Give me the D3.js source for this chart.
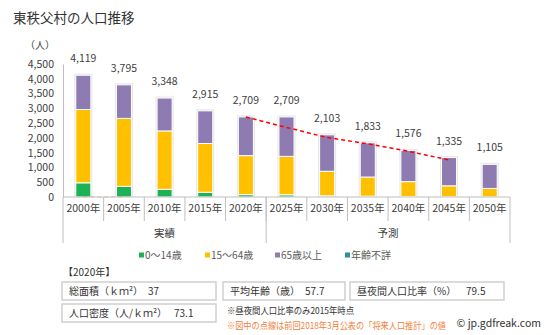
<!DOCTYPE html>
<html>
<head>
<meta charset="utf-8">
<script src="https://cdn.jsdelivr.net/npm/d3@7"></script>
<style>
  body { margin: 0; background: #fff; }
  svg { font-family: "Noto Sans CJK JP", sans-serif; }
</style>
</head>
<body>
<div id="chart"></div>
<script>
// population by age group, actual (2000-2020) and projected (2025-2050)
const years = ["2000年", "2005年", "2010年", "2015年", "2020年", "2025年", "2030年", "2035年", "2040年", "2045年", "2050年"];
const age0to14 = [480, 360, 260, 160, 80, 75, 40, 25, 15, 8, 5];
const age15to64 = [2480, 2300, 1975, 1650, 1320, 1300, 830, 650, 505, 370, 285];
const age65plus = [1159, 1135, 1113, 1105, 1309, 1334, 1233, 1158, 1056, 957, 815];
const ageUnknown = [0, 0, 0, 0, 0, 0, 0, 0, 0, 0, 0];
const totals = [4119, 3795, 3348, 2915, 2709, 2709, 2103, 1833, 1576, 1335, 1105];
// previous (2018) projection, dashed line
const prevYears = ["2020年", "2025年", "2030年", "2035年", "2040年", "2045年"];
const prevValues = [2709, 2355, 2013, 1799, 1546, 1253];
const yTicks = [0, 500, 1000, 1500, 2000, 2500, 3000, 3500, 4000, 4500];
const groups = [{ name: "実績", from: 0, to: 4 }, { name: "予測", from: 5, to: 10 }];
const seriesNames = ["0～14歳", "15～64歳", "65歳以上", "年齢不詳"];
const colors = ["#1db256", "#ffc000", "#8e7bb1", "#2e8fa3"];

const width = 548, height = 335;
const svg = d3.select("#chart").append("svg")
    .attr("width", width)
    .attr("height", height);

const left = 63, right = 510, bottom = 197;

const x = d3.scaleBand()
    .domain(years)
    .range([left, right])
    .paddingInner(0.63)
    .paddingOuter(0.315);
const step = x.step();
const bw = x.bandwidth();

const y = d3.scaleLinear()
    .domain([0, 4500])
    .range([bottom, 64]);

// title
svg.append("text")
    .attr("x", 13).attr("y", 23)
    .attr("font-size", 13.5)
    .attr("fill", "#333")
    .text("東秩父村の人口推移");

svg.append("text")
    .attr("x", 55).attr("y", 49)
    .attr("font-size", 10)
    .attr("text-anchor", "end")
    .attr("fill", "#404040")
    .text("（人）");

// y axis
const yAxis = svg.append("g")
    .attr("transform", "translate(" + left + ",0)")
    .call(d3.axisLeft(y).tickValues(yTicks).tickSize(0).tickPadding(9).tickFormat(d3.format(",")));
yAxis.select(".domain").attr("stroke", "#bfbfbf");
yAxis.selectAll("text")
    .attr("font-size", 10.5)
    .attr("fill", "#404040")
    .style("font-family", "\"Noto Sans CJK JP\", sans-serif");

// stacked bars
const rows = years.map((yr, i) => ({
    year: yr,
    a: age0to14[i], b: age15to64[i], c: age65plus[i], d: ageUnknown[i]
}));
const stack = d3.stack().keys(["a", "b", "c", "d"]);
const layers = stack(rows);

// soft grey halo behind each bar
svg.append("g").selectAll("rect")
    .data(rows)
    .enter().append("rect")
    .attr("x", d => x(d.year) - 1.5)
    .attr("width", bw + 3)
    .attr("y", (d, i) => y(layers[3][i][1]) - 1.5)
    .attr("height", (d, i) => bottom - y(layers[3][i][1]) + 1.5)
    .attr("fill", "#e6e6e6");

svg.append("g").selectAll("g")
    .data(layers)
    .enter().append("g")
    .attr("fill", (d, i) => colors[i])
    .selectAll("rect")
    .data(d => d)
    .enter().append("rect")
    .attr("x", d => x(d.data.year))
    .attr("width", bw)
    .attr("y", d => y(d[1]))
    .attr("height", d => y(d[0]) - y(d[1]))
    .attr("stroke", "#fff")
    .attr("stroke-width", d => (d[1] - d[0]) > 0 ? 1 : 0);

// total labels
svg.append("g").selectAll("text")
    .data(years)
    .enter().append("text")
    .attr("x", d => x(d) + bw / 2)
    .attr("y", (d, i) => y(totals[i]) - 13)
    .attr("text-anchor", "middle")
    .attr("font-size", 10.5)
    .attr("fill", "#404040")
    .text((d, i) => d3.format(",")(totals[i]));

// previous projection, dashed
const line = d3.line()
    .x(d => x(d[0]) + bw / 2)
    .y(d => y(d[1]));
svg.append("path")
    .datum(prevYears.map((yr, i) => [yr, prevValues[i]]))
    .attr("d", line)
    .attr("fill", "none")
    .attr("stroke", "#ff0000")
    .attr("stroke-width", 1.5)
    .attr("stroke-dasharray", "4,3");
svg.append("path")
    .datum([["2000年", 0], ["2005年", 0]])
    .attr("d", line)
    .attr("fill", "none")
    .attr("stroke", "#ff0000")
    .attr("stroke-opacity", 0.35)
    .attr("stroke-width", 1.2)
    .attr("stroke-dasharray", "4,3");

// category axis
const xAxis = svg.append("g")
    .attr("transform", "translate(0," + bottom + ")")
    .call(d3.axisBottom(x).tickSize(0).tickPadding(8));
xAxis.select(".domain").remove();
xAxis.selectAll("text")
    .attr("font-size", 10.5)
    .attr("fill", "#404040")
    .style("font-family", "\"Noto Sans CJK JP\", sans-serif");

svg.append("line")
    .attr("x1", left).attr("x2", right)
    .attr("y1", bottom).attr("y2", bottom)
    .attr("stroke", "#bfbfbf");

const bound = i => x(years[i]) - (step - bw) / 2;
// dividers between years
svg.append("g").selectAll("line")
    .data(d3.range(1, years.length))
    .enter().append("line")
    .attr("x1", i => bound(i)).attr("x2", i => bound(i))
    .attr("y1", bottom).attr("y2", 221)
    .attr("stroke", "#bfbfbf");
// group boundaries
const groupEdges = [left, bound(5), right];
svg.append("g").selectAll("line")
    .data(groupEdges)
    .enter().append("line")
    .attr("x1", d => d).attr("x2", d => d)
    .attr("y1", bottom).attr("y2", 243)
    .attr("stroke", "#bfbfbf");
svg.append("g").selectAll("text")
    .data(groups)
    .enter().append("text")
    .attr("x", d => (bound(d.from) + (d.to + 1 < years.length ? bound(d.to + 1) : right)) / 2)
    .attr("y", 237)
    .attr("text-anchor", "middle")
    .attr("font-size", 10.5)
    .attr("fill", "#404040")
    .text(d => d.name);

// legend
const legendX = [139, 205, 275, 345];
const legend = svg.append("g").selectAll("g")
    .data(seriesNames)
    .enter().append("g")
    .attr("transform", (d, i) => "translate(" + legendX[i] + ",255)");
legend.append("rect")
    .attr("x", 0).attr("y", -2.5)
    .attr("width", 5).attr("height", 5)
    .attr("fill", (d, i) => colors[i]);
legend.append("text")
    .attr("x", 6).attr("y", 3.5)
    .attr("font-size", 10)
    .attr("fill", "#595959")
    .text(d => d);

// 2020 summary boxes
svg.append("text")
    .attr("x", 63).attr("y", 276)
    .attr("font-size", 10)
    .attr("fill", "#333")
    .text("【2020年】");

const boxes = [
    { x: 62, y: 282, w: 154, h: 18, label: "総面積（ｋｍ²）", value: "37", vx: 148 },
    { x: 62, y: 304, w: 154, h: 18, label: "人口密度（人/ｋｍ²）", value: "73.1", vx: 174 },
    { x: 223, y: 282, w: 122, h: 18, label: "平均年齢（歳）", value: "57.7", vx: 305 },
    { x: 350, y: 282, w: 154, h: 18, label: "昼夜間人口比率（%）", value: "79.5", vx: 466 }
];
const box = svg.append("g").selectAll("g")
    .data(boxes)
    .enter().append("g");
box.append("rect")
    .attr("x", d => d.x).attr("y", d => d.y)
    .attr("width", d => d.w).attr("height", d => d.h)
    .attr("fill", "#fff")
    .attr("stroke", "#cfcfcf")
    .attr("stroke-width", 1.5);
box.append("text")
    .attr("x", d => d.x + 7).attr("y", d => d.y + 13)
    .attr("font-size", 10)
    .attr("fill", "#333")
    .text(d => d.label);
box.append("text")
    .attr("x", d => d.vx).attr("y", d => d.y + 13)
    .attr("font-size", 10)
    .attr("fill", "#333")
    .text(d => d.value);

svg.append("text")
    .attr("x", 227).attr("y", 314)
    .attr("font-size", 9)
    .attr("fill", "#333")
    .attr("textLength", 127)
    .attr("lengthAdjust", "spacingAndGlyphs")
    .text("※昼夜間人口比率のみ2015年時点");
svg.append("text")
    .attr("x", 227).attr("y", 329)
    .attr("font-size", 9)
    .attr("fill", "#f0823c")
    .attr("textLength", 219)
    .attr("lengthAdjust", "spacingAndGlyphs")
    .text("※図中の点線は前回2018年3月公表の「将来人口推計」の値");
svg.append("text")
    .attr("x", 541).attr("y", 327)
    .attr("text-anchor", "end")
    .attr("font-size", 10.5)
    .attr("fill", "#333")
    .text("© jp.gdfreak.com");
</script>
</body>
</html>
